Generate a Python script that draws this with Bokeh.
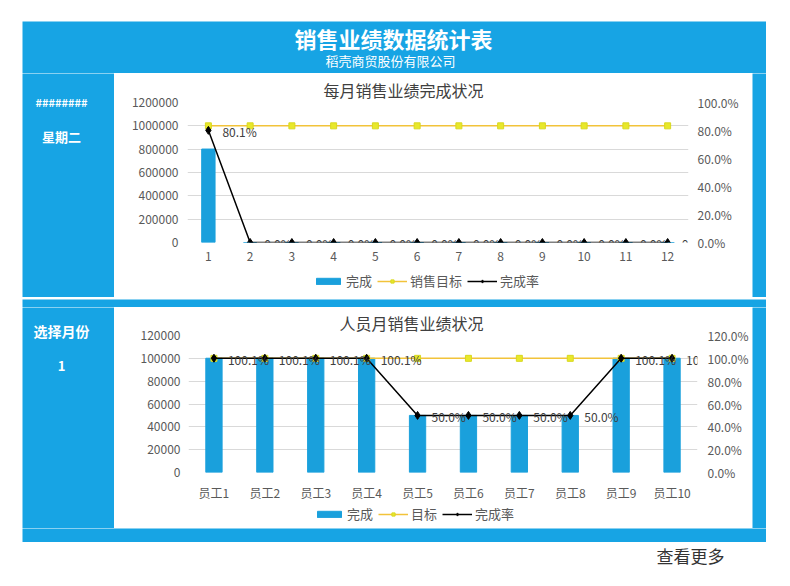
from bokeh.plotting import figure
from bokeh.layouts import row, column
from bokeh.models import (FactorRange, Range1d, LinearAxis, FixedTicker, NumeralTickFormatter,
                          Legend, LegendItem, LabelSet, ColumnDataSource)
from bokeh.core.properties import value
from bokeh.embed import file_html
from bokeh.resources import INLINE

# ---------------- data ----------------
months = [str(i) for i in range(1, 13)]
month_done = [801000, 0, 0, 0, 0, 0, 0, 0, 0, 0, 0, 0]
month_target = [1000000] * 12
month_rate = [0.801, 0, 0, 0, 0, 0, 0, 0, 0, 0, 0, 0]
month_left_ticks = [0, 200000, 400000, 600000, 800000, 1000000, 1200000]
month_right_ticks = [0, 0.2, 0.4, 0.6, 0.8, 1.0]

staff = ["员工1", "员工2", "员工3", "员工4", "员工5", "员工6", "员工7", "员工8", "员工9", "员工10"]
staff_done = [100100, 100100, 100100, 100100, 50000, 50000, 50000, 50000, 100100, 100100]
staff_target = [100000] * 10
staff_rate = [1.001, 1.001, 1.001, 1.001, 0.5, 0.5, 0.5, 0.5, 1.001, 1.001]
staff_left_ticks = [0, 20000, 40000, 60000, 80000, 100000, 120000]
staff_right_ticks = [0, 0.2, 0.4, 0.6, 0.8, 1.0, 1.2]

main_title = "销售业绩数据统计表"
sub_title = "稻壳商贸股份有限公司"
chart1_title = "每月销售业绩完成状况"
chart2_title = "人员月销售业绩状况"
chart1_legend = ["完成", "销售目标", "完成率"]
chart2_legend = ["完成", "目标", "完成率"]
side_date = "########"
side_week = "星期二"
side_select = "选择月份"
side_month = "1"
footer_text = "查看更多"

# ---------------- style ----------------
BLUE = "#17a4e4"
FONT = "Noto Sans CJK SC"
TXT = "#595959"
BAR_STYLE = dict(color="#1aa0dc")
TLINE_STYLE = dict(color="#f2c33a", line_width=1.5)
TMARK_STYLE = dict(marker="square", size=6, fill_color="#e8e82a", line_color="#d8d820")
RLINE_STYLE = dict(color="black", line_width=1.5)
RMARK_STYLE = dict(marker="diamond", size=8, color="black")


def blank(w, h, color, bl=0, br=0):
    p = figure(width=w, height=h, x_range=Range1d(0, w - bl - br), y_range=Range1d(h, 0),
               toolbar_location=None, output_backend="svg", min_border=0,
               min_border_left=bl, min_border_right=br)
    p.axis.visible = False
    p.grid.visible = False
    p.outline_line_color = None
    p.background_fill_color = color
    p.border_fill_color = color
    return p


def add_series(p, src):
    """Draw the three series of one chart; returns the renderers for the legend."""
    b = p.vbar(x="x", top="done", width=0.32, source=src, **BAR_STYLE)
    tl = p.line(x="x", y="target", source=src, **TLINE_STYLE)
    tm = p.scatter(x="x", y="target", source=src, **TMARK_STYLE)
    rl = p.line(x="x", y="rate", source=src, y_range_name="rate", **RLINE_STYLE)
    rm = p.scatter(x="x", y="rate", source=src, y_range_name="rate", **RMARK_STYLE)
    return b, tl, tm, rl, rm


def legend_fig(w, h, cats, done, target, rate, ymax, rmax, labels, bl, br, loc):
    # legend strip under a chart: the series here are hidden, only the swatches show
    p = figure(width=w, height=h, x_range=FactorRange(factors=cats), y_range=Range1d(0, ymax),
               toolbar_location=None, output_backend="svg", min_border=0,
               min_border_left=bl, min_border_right=br)
    p.extra_y_ranges = {"rate": Range1d(0, rmax)}
    p.axis.visible = False
    p.grid.visible = False
    p.outline_line_color = None
    p.background_fill_color = "white"
    p.border_fill_color = "white"
    src = ColumnDataSource(dict(x=cats, done=done, target=target, rate=rate))
    rs = add_series(p, src)
    for r in rs:
        r.visible = False
    b, tl, tm, rl, rm = rs
    leg = Legend(items=[LegendItem(label=labels[0], renderers=[b]),
                        LegendItem(label=labels[1], renderers=[tl, tm]),
                        LegendItem(label=labels[2], renderers=[rl, rm])],
                 orientation="horizontal", location=loc,
                 label_text_font=FONT, label_text_font_size="13px", label_text_color=TXT,
                 glyph_width=30, glyph_height=8, label_height=16, label_width=10,
                 label_standoff=3, spacing=5, inactive_fill_alpha=0,
                 padding=2, margin=0, border_line_color=None, background_fill_alpha=0)
    p.add_layout(leg)
    return p


def chart(w, h, cats, done, target, rate, lticks, rticks, rmax, title,
          borders, title_offset, lstand, rstand, xstand):
    bl, br, bt, bb = borders
    p = figure(width=w, height=h, x_range=FactorRange(factors=cats),
               y_range=Range1d(0, lticks[-1]), toolbar_location=None,
               output_backend="svg", min_border_left=bl, min_border_right=br,
               min_border_top=bt, min_border_bottom=bb)
    p.extra_y_ranges = {"rate": Range1d(0, rmax)}
    p.outline_line_color = None
    p.background_fill_color = "white"
    p.border_fill_color = "white"
    p.xgrid.grid_line_color = None
    p.ygrid.grid_line_color = "#d9d9d9"
    p.ygrid.ticker = FixedTicker(ticks=lticks)

    p.title.text = title
    p.title.align = "left"
    p.title.offset = title_offset
    p.title.standoff = 2
    p.title.text_font = FONT
    p.title.text_font_size = "16px"
    p.title.text_font_style = "normal"
    p.title.text_color = "#404040"

    src = ColumnDataSource(dict(x=cats, done=done, target=target, rate=rate,
                                lab=["%.1f%%" % (r * 100) for r in rate]))
    add_series(p, src)
    labels = LabelSet(x="x", y="rate", text="lab", source=src, y_range_name="rate",
                      x_offset=14, y_offset=-1, text_align="left", text_baseline="middle",
                      text_font=value(FONT), text_font_size="12px", text_color="#404040")
    p.add_layout(labels)

    ax = p.yaxis[0]
    ax.ticker = FixedTicker(ticks=lticks)
    ax.formatter = NumeralTickFormatter(format="0")
    rax = LinearAxis(y_range_name="rate", ticker=FixedTicker(ticks=rticks),
                     formatter=NumeralTickFormatter(format="0.0%"))
    p.add_layout(rax, "right")
    for a, s in ((ax, lstand), (rax, rstand)):
        a.axis_line_color = None
        a.major_tick_line_color = None
        a.minor_tick_line_color = None
        a.major_tick_out = 0
        a.major_label_standoff = s
        a.major_label_text_font = FONT
        a.major_label_text_font_size = "12px"
        a.major_label_text_color = TXT
    xa = p.xaxis[0]
    xa.axis_line_color = None
    xa.major_tick_line_color = None
    xa.major_tick_out = 0
    xa.major_label_standoff = xstand
    xa.major_label_text_font = FONT
    xa.major_label_text_font_size = "12px"
    xa.major_label_text_color = TXT
    return p


# ---------------- pieces ----------------
top_white = blank(790, 21, "white")
left_white = blank(22, 521, "white")
right_white = blank(24, 521, "white")
bottom_white = blank(790, 44, "white")
bottom_white.text(x=[690], y=[13], text=[footer_text], text_font=value(FONT), text_font_size="17px",
                  text_color="#333333", text_align="center", text_baseline="middle")

header = blank(744, 52, BLUE)
header.text(x=[371], y=[16], text=[main_title], text_font=value(FONT), text_font_size="22px",
            text_font_style="bold", text_color="white", text_align="center", text_baseline="middle")
header.text(x=[368], y=[39], text=[sub_title], text_font=value(FONT), text_font_size="13px",
            text_color="white", text_align="center", text_baseline="middle")

side_top = blank(92, 224, BLUE)
side_top.text(x=[39, 39], y=[28, 63], text=[side_date, side_week], text_font=value(FONT),
              text_font_size=["11px", "13px"], text_font_style="bold",
              text_color="white", text_align="center", text_baseline="middle")
side_bot = blank(92, 221, BLUE)
side_bot.text(x=[39, 39], y=[23, 58], text=[side_select, side_month], text_font=value(FONT),
              text_font_size=["14px", "13px"], text_font_style="bold",
              text_color="white", text_align="center", text_baseline="middle")

chart1 = chart(638, 197, months, month_done, month_target, month_rate, month_left_ticks,
               month_right_ticks, 1.0, chart1_title, (73, 64, 29, 28), 136, 9, 9, 9)
leg1 = legend_fig(638, 27, months, month_done, month_target, month_rate,
                  month_left_ticks[-1], 1.0, chart1_legend, 73, 64, (126, 7))
chart2 = chart(638, 196, staff, staff_done, staff_target, staff_rate, staff_left_ticks,
               staff_right_ticks, 1.2, chart2_title, (74, 55, 26, 29), 151, 8, 10, 11)
leg2 = legend_fig(638, 25, staff, staff_done, staff_target, staff_rate,
                  staff_left_ticks[-1], 1.2, chart2_legend, 74, 55, (126, 5))

gap = blank(744, 10, BLUE)
bottom_strip = blank(744, 14, BLUE)
strip_top = blank(14, 224, BLUE)
strip_bot = blank(14, 221, BLUE)

blue_block = column(header,
                    row(side_top, column(chart1, leg1), strip_top),
                    gap,
                    row(side_bot, column(chart2, leg2), strip_bot),
                    bottom_strip)
layout = column(top_white, row(left_white, blue_block, right_white), bottom_white)

open("out.html", "w").write(file_html(layout, INLINE))
